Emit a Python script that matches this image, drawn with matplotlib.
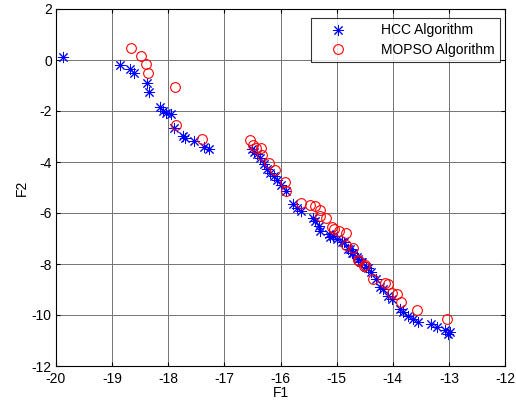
import matplotlib
matplotlib.use("Agg")
import matplotlib.pyplot as plt

plt.rcParams['font.family'] = ['Liberation Sans', 'DejaVu Sans']

hcc_f1 = [-19.87, -18.86, -18.68, -18.61, -18.37, -18.34, -18.15, -18.10, -18.04, -17.95,
          -17.89, -17.74, -17.71, -17.55, -17.36, -17.27,
          -16.50, -16.47, -16.41, -16.36, -16.30, -16.24, -16.18, -16.12, -16.06, -16.00,
          -15.91, -15.77, -15.70, -15.64, -15.42, -15.38, -15.32, -15.29, -15.14, -15.11,
          -14.99, -14.91, -14.79, -14.73, -14.64, -14.55, -14.44,
          -15.06, -14.86, -14.77, -14.71, -14.62, -14.56, -14.47, -14.38, -14.29, -14.23,
          -14.17, -14.09, -14.02, -13.87, -13.81, -13.72, -13.64, -13.55, -13.31, -13.22,
          -13.07, -12.98, -13.01]
hcc_f2 = [0.10, -0.20, -0.37, -0.52, -0.89, -1.24, -1.86, -2.00, -2.09, -2.12,
          -2.65, -2.97, -3.07, -3.18, -3.43, -3.49,
          -3.48, -3.61, -3.67, -3.83, -4.07, -4.26, -4.43, -4.53, -4.72, -4.92,
          -5.14, -5.64, -5.80, -5.91, -6.19, -6.30, -6.50, -6.69, -6.82, -6.96,
          -7.02, -7.15, -7.41, -7.55, -7.74, -7.94, -8.14,
          -6.90, -7.15, -7.41, -7.55, -7.81, -7.94, -8.11, -8.33, -8.59, -8.92,
          -8.98, -9.24, -9.37, -9.76, -9.89, -10.02, -10.15, -10.28, -10.35, -10.48,
          -10.58, -10.67, -10.76]

mopso_f1 = [-18.67, -18.48, -18.39, -18.36, -17.88, -17.86, -17.39,
            -16.55, -16.49, -16.43, -16.34, -16.33, -16.21, -16.09, -15.92, -15.91,
            -15.64, -15.47, -15.39, -15.30, -15.29, -15.19, -15.08, -15.04, -14.96,
            -14.84, -14.83, -14.71, -14.62, -14.49,
            -14.61, -14.52, -14.35, -14.14, -14.09, -14.02, -13.93, -13.85, -13.56, -13.04]
mopso_f2 = [0.46, 0.16, -0.17, -0.52, -1.07, -2.55, -3.11,
            -3.15, -3.35, -3.44, -3.45, -3.74, -4.04, -4.33, -4.80, -5.12,
            -5.62, -5.68, -5.71, -5.87, -6.10, -6.21, -6.54, -6.63, -6.69,
            -6.78, -7.24, -7.39, -7.85, -8.04,
            -7.87, -8.09, -8.59, -8.74, -8.80, -9.13, -9.17, -9.49, -9.82, -10.15]

x_ticks = [-20, -19, -18, -17, -16, -15, -14, -13, -12]
y_ticks = [-12, -10, -8, -6, -4, -2, 0, 2]

fig = plt.figure(figsize=(5.16, 4.04), dpi=100)
ax = fig.add_axes([56 / 516, 38 / 404, 449 / 516, 357 / 404])

ax.plot(hcc_f1, hcc_f2, linestyle='none', marker=(8, 2, 0), color='blue',
        markersize=8, markeredgewidth=0.7, label='HCC Algorithm')
ax.plot(mopso_f1, mopso_f2, linestyle='none', marker='o', markerfacecolor='none',
        markeredgecolor='red', markersize=7, markeredgewidth=0.8, label='MOPSO Algorithm')

ax.set_xlim(-20, -12)
ax.set_ylim(-12, 2)
ax.set_xticks(x_ticks)
ax.set_yticks(y_ticks)
ax.set_xticklabels([str(t) for t in x_ticks])
ax.set_yticklabels([str(t) for t in y_ticks])
ax.tick_params(direction='in', top=True, right=True, labelsize=10, length=3)
ax.tick_params(axis='x', pad=4)
ax.tick_params(axis='y', pad=3)
ax.grid(True, color='0.45', linewidth=0.7)
ax.set_axisbelow(True)
for s in ax.spines.values():
    s.set_linewidth(0.8)
ax.set_xlabel('F1', fontsize=10, labelpad=0)
ax.set_ylabel('F2', fontsize=10, labelpad=2)

leg = ax.legend(loc='upper right', fontsize=10, frameon=True, fancybox=False,
                edgecolor='black', bbox_to_anchor=(0.989, 0.975),
                borderaxespad=0.0, handletextpad=1.6,
                borderpad=0.4, labelspacing=0.38, handlelength=3.0)
leg.get_frame().set_linewidth(0.8)

fig.savefig('out.png', dpi=100)
